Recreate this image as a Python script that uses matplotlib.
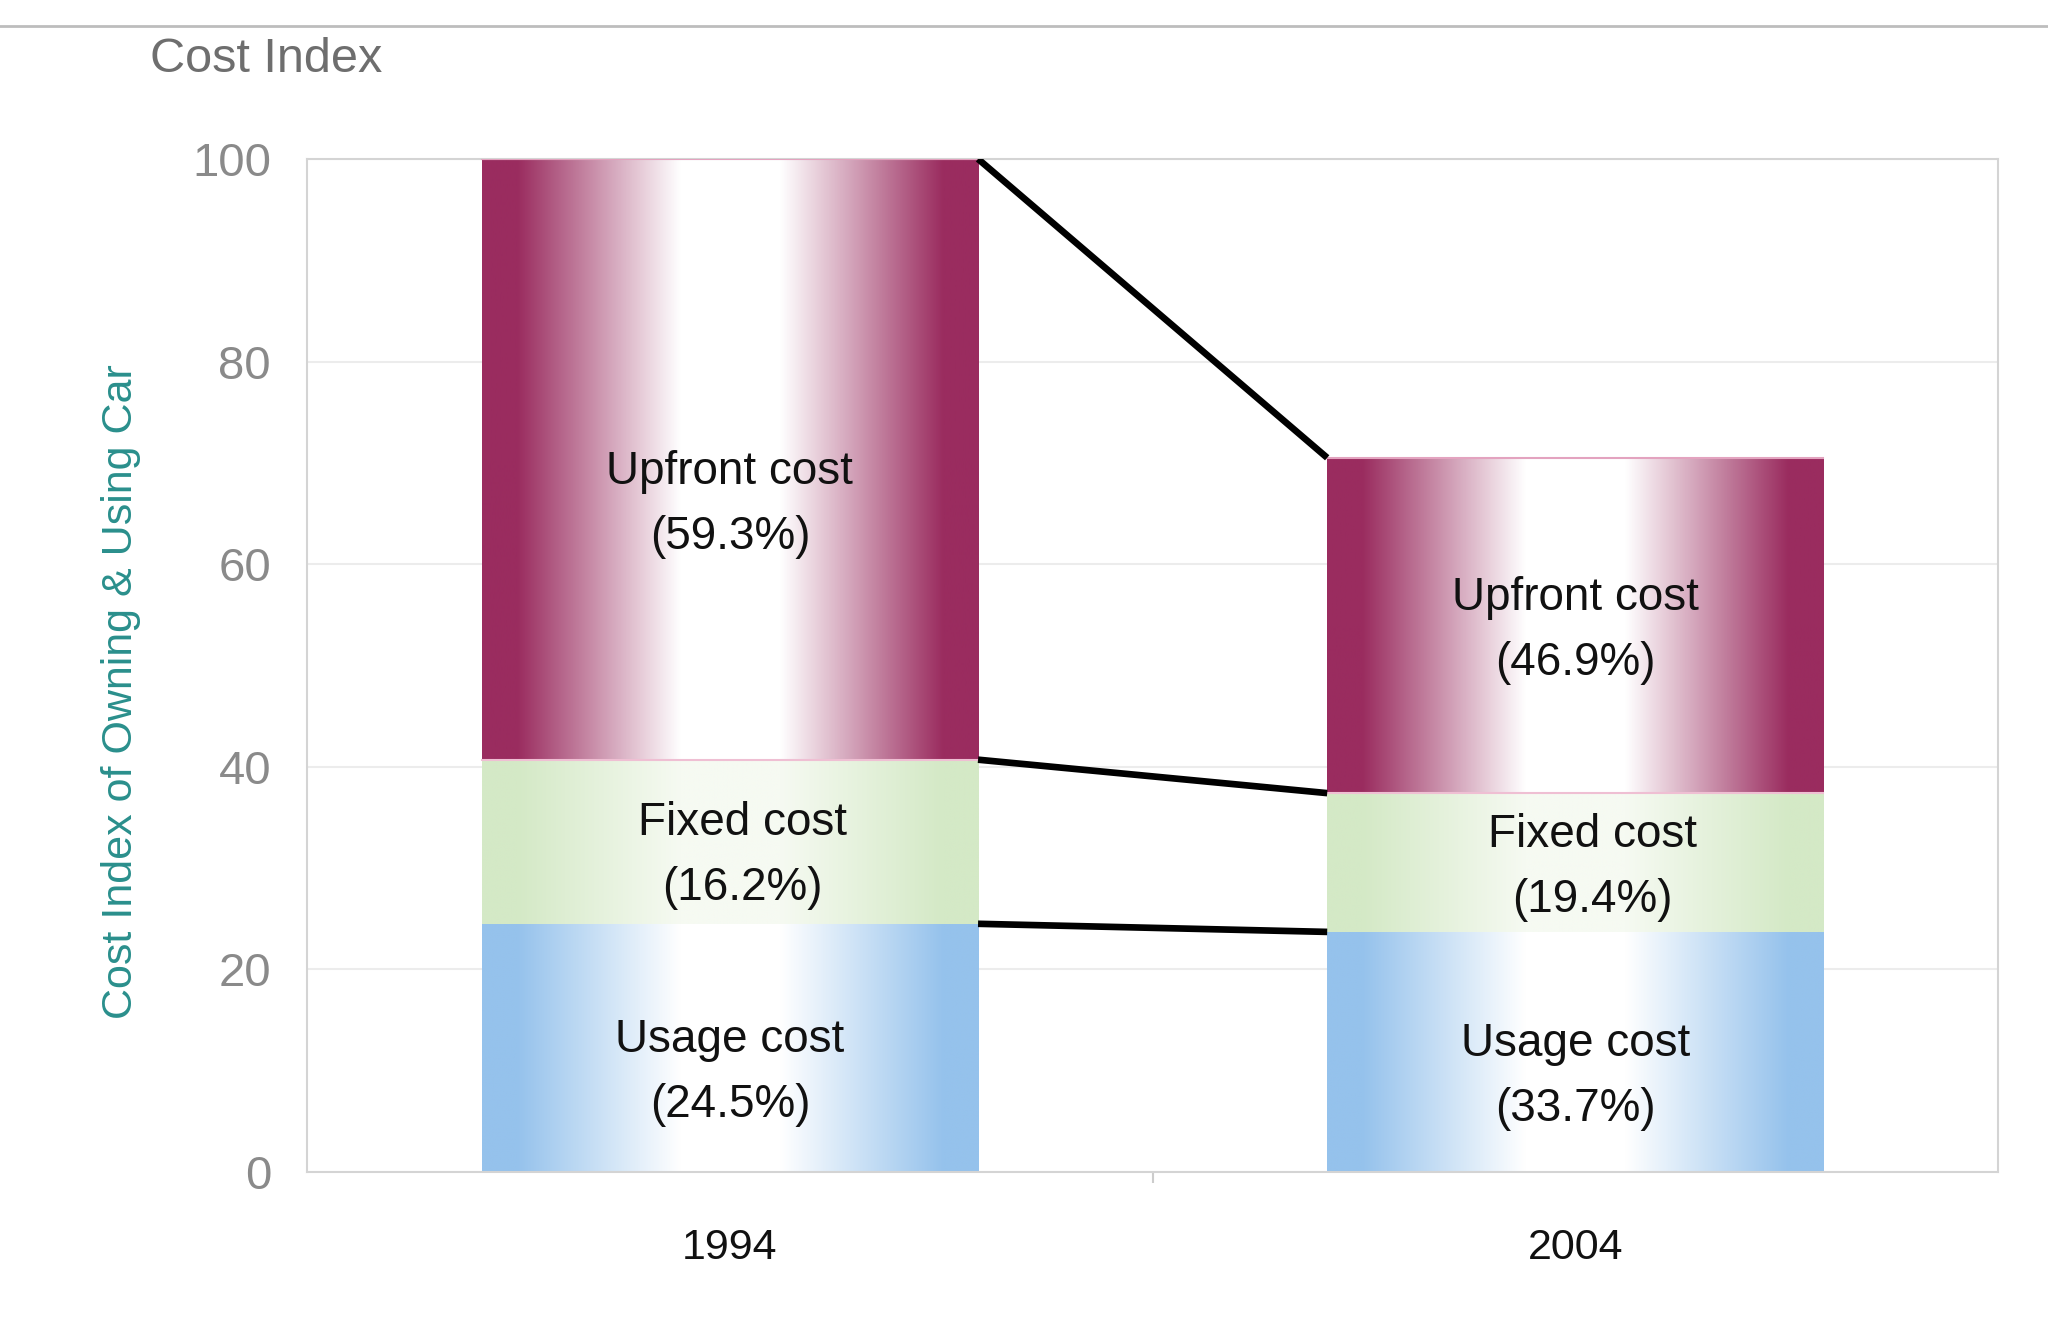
import numpy as np
import matplotlib
matplotlib.use("Agg")
import matplotlib.pyplot as plt
from matplotlib.colors import LinearSegmentedColormap
from matplotlib.lines import Line2D

# ---- data ----
years = ["1994", "2004"]
usage = [24.5, 23.7]
fixed = [16.2, 13.7]
upfront = [59.3, 33.1]
usage_pct = ["24.5%", "33.7%"]
fixed_pct = ["16.2%", "19.4%"]
upfront_pct = ["59.3%", "46.9%"]
yticks = [0, 20, 40, 60, 80, 100]

plt.rcParams['font.family'] = ['Liberation Sans', 'DejaVu Sans']

fig = plt.figure(figsize=(20.48, 13.30), dpi=100)
ax = fig.add_axes([0.150, 0.1188, 0.8256, 0.7617])

x = np.arange(len(years))
w = 0.587
b_usage = ax.bar(x, usage, width=w, color='none', zorder=2)
b_fixed = ax.bar(x, fixed, width=w, bottom=usage, color='none', zorder=2)
bottom_up = [u + f for u, f in zip(usage, fixed)]
b_up = ax.bar(x, upfront, width=w, bottom=bottom_up, color='none', zorder=2)


def prof(n=600, lo=0.2, hi=0.86):
    t = np.linspace(0, 1, n)
    d = np.abs(t - 0.5) * 2  # 0 center, 1 edge
    v = np.clip((d - lo) / (hi - lo), 0, 1)
    return v


cm_up = LinearSegmentedColormap.from_list('up', ['#ffffff', '#9a2c5f'])
cm_fx = LinearSegmentedColormap.from_list('fx', ['#f6faf2', '#d4e9c6'])
cm_us = LinearSegmentedColormap.from_list('us', ['#ffffff', '#95c2ec'])

for bars, cm in [(b_usage, cm_us), (b_fixed, cm_fx), (b_up, cm_up)]:
    for p in bars:
        x0, y0 = p.get_x(), p.get_y()
        ww, hh = p.get_width(), p.get_height()
        img = prof()[None, :]
        ax.imshow(img, cmap=cm, vmin=0, vmax=1, aspect='auto',
                  extent=[x0, x0 + ww, y0, y0 + hh], zorder=2,
                  interpolation='bilinear')

# thin pink edges on upfront segments
for p in b_up:
    x0, y0 = p.get_x(), p.get_y()
    ww, hh = p.get_width(), p.get_height()
    ax.plot([x0, x0 + ww], [y0 + hh, y0 + hh], color='#e3a3bf', lw=1.5, zorder=3)
    ax.plot([x0, x0 + ww], [y0, y0], color='#efbfd3', lw=1.5, zorder=3)

# connecting lines
tops_usage = usage
tops_fixed = bottom_up
tops_up = [b + u for b, u in zip(bottom_up, upfront)]
for tops in [tops_usage, tops_fixed, tops_up]:
    ax.plot([x[0] + w / 2, x[1] - w / 2], [tops[0], tops[1]], color='black',
            lw=4.8, zorder=4, solid_capstyle='butt')

# labels
fs = 33
ls = 1.62
for i in range(len(years)):
    ax.text(x[i], usage[i] / 2 - 2.4, f"Usage cost\n({usage_pct[i]})", ha='center',
            va='center', fontsize=fs, linespacing=ls, color='#111111', zorder=5)
    foff = -1.4 if i == 0 else -0.5
    ax.text(x[i] + (0.015 if i == 0 else 0.02), usage[i] + fixed[i] / 2 + foff,
            f"Fixed cost\n({fixed_pct[i]})", ha='center',
            va='center', fontsize=fs, linespacing=ls, color='#111111', zorder=5)
    off = -4.5 if i == 0 else -0.5
    ax.text(x[i], bottom_up[i] + upfront[i] / 2 + off, f"Upfront cost\n({upfront_pct[i]})",
            ha='center', va='center', fontsize=fs, linespacing=ls, color='#111111', zorder=5)

ax.set_xlim(-0.5, 1.5)
ax.set_ylim(0, 100)
ax.set_yticks(yticks)
ax.set_yticklabels([str(v) for v in yticks], fontsize=34, color='#8a8a8a')
ax.tick_params(axis='y', length=0, pad=26)
ax.set_xticks(x)
ax.set_xticklabels(years, fontsize=31, color='#111111')
ax.tick_params(axis='x', length=0, pad=40)
ax.set_xticks([0.5], minor=True)
ax.tick_params(axis='x', which='minor', length=8, color='#cccccc', width=1.5, direction='out')
ax.grid(axis='y', color='#ececec', lw=1.5, zorder=0)
ax.set_axisbelow(True)
for s in ax.spines.values():
    s.set_color('#d4d4d4')
    s.set_linewidth(1.5)

fig.text(0.059, 0.4797, "Cost Index of Owning & Using Car", rotation=90,
         ha='center', va='center', fontsize=31, color='#2a8f8c')
fig.text(0.0732, 0.955, "Cost Index", ha='left', va='center', fontsize=35, color='#6e6e6e')
fig.add_artist(Line2D([0, 1], [0.9805, 0.9805], transform=fig.transFigure,
                      color='#bdbdbd', lw=2))

fig.savefig("out.png", dpi=100)
